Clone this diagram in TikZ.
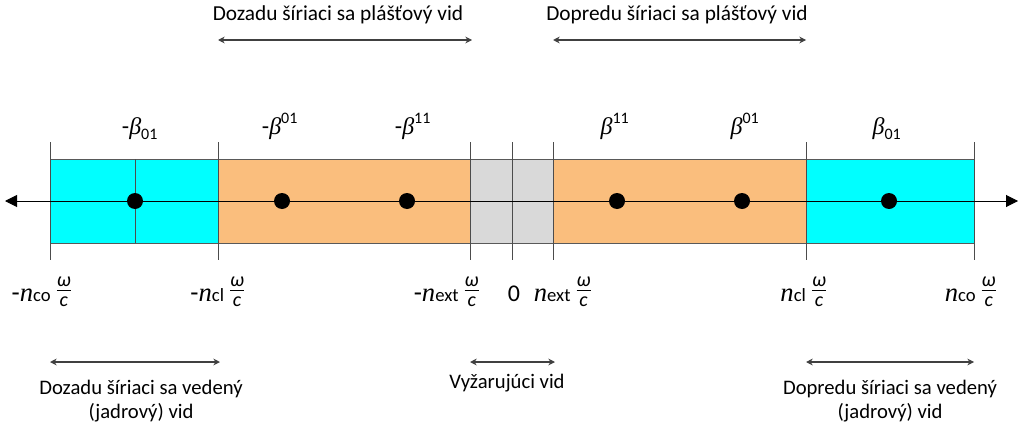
\documentclass[tikz,border=0pt]{standalone}
\usepackage{fontspec}
\setmainfont{Carlito}
\newfontfamily\varfont{Liberation Serif}
\usetikzlibrary{arrows.meta}

\definecolor{corecyan}{RGB}{0,255,255}
\definecolor{cladorange}{RGB}{250,190,125}
\definecolor{radgray}{RGB}{217,217,217}

% symbols, small upright index and the fraction omega/c
\newcommand{\bt}{\mbox{\varfont\itshape β}}
\newcommand{\nn}{{\varfont\itshape n}}
\newcommand{\smallidx}[1]{\mbox{\fontsize{12}{12}\selectfont #1}}
\newcommand{\nidx}[1]{{\fontsize{14}{14}\selectfont #1}}
\newcommand{\wc}{\raisebox{3pt}{\(\frac{\mbox{\fontsize{15}{15}\selectfont\itshape ω}}{\mbox{\fontsize{15}{15}\selectfont\itshape c}}\)}}

\tikzset{
  band/.style={draw=black!65,line width=.6pt},
  tick/.style={draw=black!70,line width=.75pt},
  mode dot/.style={circle,fill=black,inner sep=0pt,minimum size=12pt},
  beta label/.style={font=\fontsize{18}{20}\selectfont,anchor=base,inner sep=0pt},
  n label/.style={font=\fontsize{20}{24}\selectfont,anchor=base,inner sep=0pt},
  span text/.style={font=\fontsize{15.5}{18}\selectfont,anchor=base,align=center,inner sep=0pt},
  span/.style={{Stealth[length=5pt,width=5pt]}-{Stealth[length=5pt,width=5pt]},line width=1.4pt,black!75}
}

\begin{document}
\begin{tikzpicture}[x=.75pt,y=-.75pt]
    \useasboundingbox (0,0) rectangle (1023,428);
    % bands
    \filldraw[band,fill=corecyan] (50,159) rectangle (218,243);
    \filldraw[band,fill=cladorange] (218,159) rectangle (470,243);
    \filldraw[band,fill=radgray] (470,159) rectangle (553,243);
    \filldraw[band,fill=cladorange] (553,159) rectangle (806,243);
    \filldraw[band,fill=corecyan] (806,159) rectangle (974,243);
    \draw[tick] (135,159) -- (135,243);
    % ticks
    \coordinate (mco) at (50,201);
    \coordinate (mcl) at (218,201);
    \coordinate (mext) at (470,201);
    \coordinate (zero) at (512,201);
    \coordinate (pext) at (553,201);
    \coordinate (pcl) at (806,201);
    \coordinate (pco) at (974,201);
    \foreach \t in {mco,mcl,mext,zero,pext,pcl,pco}
      \draw[tick] (\t) ++(0,-59) -- ++(0,118);
    % axis
    \coordinate (axl) at (5,201);
    \coordinate (axr) at (1018,201);
    \draw[{Triangle[length=9pt,width=9pt]}-{Triangle[length=9pt,width=9pt]},line width=.75pt] (axl) -- (axr);
    % modes
    \node[mode dot] (mb01) at (135,201) {};
    \node[mode dot] (mbs01) at (282,201) {};
    \node[mode dot] (mbs11) at (407,201) {};
    \node[mode dot] (pbs11) at (617,201) {};
    \node[mode dot] (pbs01) at (742,201) {};
    \node[mode dot] (pb01) at (889,201) {};
    \node[beta label] (lmb01) at (140,134) {-\(\bt_{\smallidx{01}}\)};
    \node[beta label] (lmbs01) at (280,134) {-\(\bt^{\smallidx{01}}\)};
    \node[beta label] (lmbs11) at (413,134) {-\(\bt^{\smallidx{11}}\)};
    \node[beta label] (lpbs11) at (615,134) {\(\bt^{\smallidx{11}}\)};
    \node[beta label] (lpbs01) at (745,134) {\(\bt^{\smallidx{01}}\)};
    \node[beta label] (lpb01) at (887,134) {\(\bt_{\smallidx{01}}\)};
    % values on the axis
    \node[n label] (lmco) at (42,301) {-\nn\nidx{co}\,\wc};
    \node[n label] (lmcl) at (218,301) {-\nn\nidx{cl}\,\wc};
    \node[n label] (lmext) at (447,301) {-\nn\nidx{ext}\,\wc};
    \node[n label,font=\fontsize{18}{20}\selectfont] (lzero) at (514,301) {0};
    \node[n label] (lpext) at (563,301) {\nn\nidx{ext}\,\wc};
    \node[n label] (lpcl) at (804,301) {\nn\nidx{cl}\,\wc};
    \node[n label] (lpco) at (971,301) {\nn\nidx{co}\,\wc};
    % cladding modes
    \node[span text,font=\fontsize{16}{18}\selectfont] (backclad) at (338,21) {Dozadu šíriaci sa plášťový vid};
    \node[span text,font=\fontsize{16}{18}\selectfont] (foreclad) at (677,21) {Dopredu šíriaci sa plášťový vid};
    \coordinate (bc1) at (218,40);
    \coordinate (bc2) at (472,40);
    \coordinate (fc1) at (553,40);
    \coordinate (fc2) at (806,40);
    \draw[span] (bc1) -- (bc2);
    \draw[span] (fc1) -- (fc2);
    % core and radiation modes
    \coordinate (bg1) at (50,362);
    \coordinate (bg2) at (220,362);
    \coordinate (rd1) at (470,362);
    \coordinate (rd2) at (555,362);
    \coordinate (fg1) at (806,362);
    \coordinate (fg2) at (974,362);
    \draw[span] (bg1) -- (bg2);
    \draw[span] (rd1) -- (rd2);
    \draw[span] (fg1) -- (fg2);
    \node[span text] (backguided) at (141,418) {Dozadu šíriaci sa vedený\\(jadrový) vid};
    \node[span text] (radiating) at (507,388) {Vyžarujúci vid};
    \node[span text] (foreguided) at (890,418) {Dopredu šíriaci sa vedený\\(jadrový) vid};
\end{tikzpicture}
\end{document}
